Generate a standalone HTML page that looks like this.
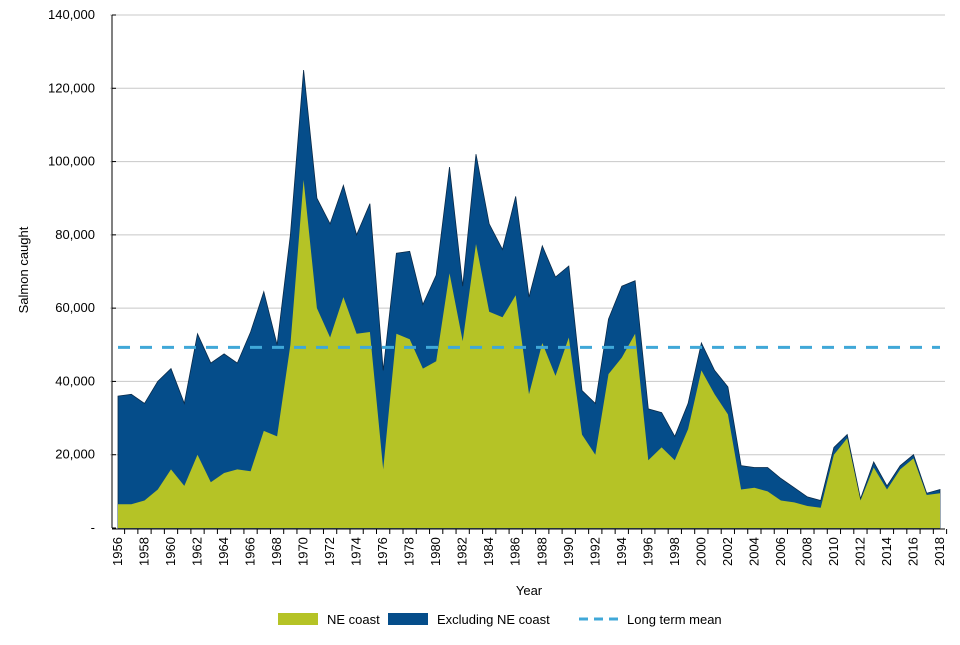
<!DOCTYPE html>
<html><head><meta charset="utf-8"><style>
body{margin:0;background:#fff;}
svg text{font-family:"Liberation Sans",Arial,sans-serif;fill:#000;}
</style></head><body>
<svg width="960" height="640" id="chart">
<g id="grid"></g>
<g id="areas"></g>
<g id="axes"></g>
<text x="28" y="270" transform="rotate(-90 28 270)" text-anchor="middle" font-size="13">Salmon caught</text>
<text x="529" y="595" text-anchor="middle" font-size="13">Year</text>
<g>
<rect x="278" y="613" width="40" height="12" fill="#b5c326"/>
<text x="327" y="624" font-size="13">NE coast</text>
<rect x="388" y="613" width="40" height="12" fill="#054d8a"/>
<text x="437" y="624" font-size="13">Excluding NE coast</text>
<line x1="579" y1="619" x2="619" y2="619" stroke="#40a8d8" stroke-width="3" stroke-dasharray="9,6"/>
<text x="627" y="624" font-size="13">Long term mean</text>
</g>
</svg>
<script>
const years=[];for(let y=1956;y<=2018;y++)years.push(y);
const totalCaught=[36000,36500,34000,40000,43500,34000,53000,45000,47500,45000,53500,64500,50000,80000,125000,90000,83000,93500,80000,88500,43000,75000,75500,61000,69000,98500,66000,102000,83000,76000,90500,63000,77000,68500,71500,37500,34000,57000,66000,67500,32500,31500,25000,34000,50500,43000,38500,17000,16500,16500,13500,11000,8500,7500,22000,25500,8000,18000,11500,17000,20000,9500,10500];
const neCoast=[6500,6500,7500,10500,16000,11500,20000,12500,15000,16000,15500,26500,25000,50000,95000,60000,52000,63000,53000,53500,16000,53000,51500,43500,45500,69500,51000,77500,59000,57500,63500,36500,50500,41500,52000,25500,20000,42000,46500,53000,18500,22000,18500,27000,43000,36500,31000,10500,11000,10000,7500,7000,6000,5500,20000,24500,7500,16500,10500,16000,19000,9000,9500];
const longTermMean=[49300];
const yTicks=[0,20000,40000,60000,80000,100000,120000,140000];
const yTickLabels=["-","20,000","40,000","60,000","80,000","100,000","120,000","140,000"];

const NS="http://www.w3.org/2000/svg";
const X0=118,X1=940,Y0=528,Y1=15;
const xS=y=>X0+(y-1956)*(X1-X0)/(2018-1956);
const yS=v=>Y0-v*(Y0-Y1)/140000;
function mk(tag,attrs,parent){const e=document.createElementNS(NS,tag);for(const k in attrs)e.setAttribute(k,attrs[k]);parent.appendChild(e);return e;}
const grid=document.getElementById('grid'),areas=document.getElementById('areas'),axes=document.getElementById('axes');
yTicks.forEach((t,i)=>{
 if(t>0){const l=mk('line',{x1:X0-8,x2:945,y1:yS(t),y2:yS(t),stroke:'#c8c8c8','stroke-width':1},grid);
 
 }
 const tk=mk('line',{x1:X0-6,x2:X0-2,y1:yS(t),y2:yS(t),stroke:'#000'},axes);
 
 
 const tx=mk('text',{x:95,y:yS(t)+4,'text-anchor':'end','font-size':13},axes);
 tx.textContent=yTickLabels[i];
 
 
});
function areaPath(vals){let d='M'+xS(years[0])+','+Y0;vals.forEach((v,i)=>{d+=' L'+xS(years[i]).toFixed(1)+','+yS(v).toFixed(1);});d+=' L'+xS(years[years.length-1])+','+Y0+' Z';return d;}
const a1=mk('path',{d:areaPath(totalCaught),fill:'#054d8a',stroke:'#0a2b4a','stroke-width':0.8},areas);


const a2=mk('path',{d:areaPath(neCoast),fill:'#b5c326'},areas);


const ml=mk('line',{x1:X0,x2:940,y1:yS(longTermMean[0]),y2:yS(longTermMean[0]),stroke:'#40a8d8','stroke-width':3,'stroke-dasharray':'12,10'},areas);


const ya=mk('line',{x1:X0-6,x2:X0-6,y1:Y1,y2:Y0,stroke:'#000'},axes);


const xa=mk('line',{x1:X0-6,x2:945,y1:Y0+1,y2:Y0+1,stroke:'#000'},axes);


years.forEach((y,i)=>{
 const tk=mk('line',{x1:xS(y)+6.6,x2:xS(y)+6.6,y1:Y0+1,y2:Y0+6,stroke:'#000'},axes);
 
 
 if(i%2===0){const x=xS(y)+4,yy=Y0+38;
 const tx=mk('text',{x:x,y:yy,transform:'rotate(-90 '+x+' '+yy+')','font-size':13},axes);
 tx.textContent=y;
 
 }
});
</script>
</body></html>
